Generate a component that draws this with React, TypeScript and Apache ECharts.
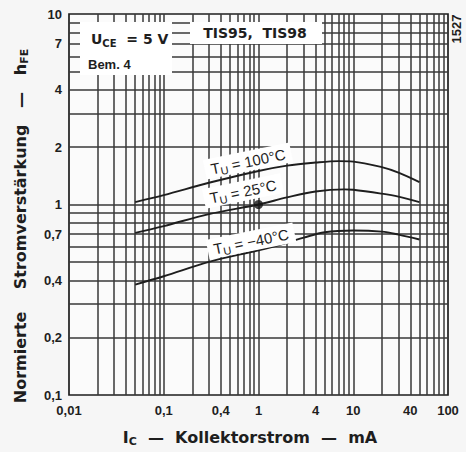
import React, { useEffect, useRef } from 'react';
import * as echarts from 'echarts';

// Tick labels
const xTickLabels = [0.01, 0.1, 0.4, 1, 4, 10, 40, 100];
const yTickLabels = [0.1, 0.2, 0.4, 0.7, 1, 2, 4, 7, 10];
// Log grid
const xDecades = [0.01, 0.1, 1, 10];
const yDecades = [0.1, 1];
const gridSteps = [2, 3, 4, 5, 6, 7, 8, 9];

// Series: I_C (mA) and normalised hFE
const ic100 = [0.05, 0.1, 0.3, 1, 2, 4, 7, 10, 20, 30, 50];
const hfe100 = [1.03, 1.12, 1.3, 1.5, 1.6, 1.66, 1.69, 1.68, 1.57, 1.47, 1.31];
const ic25 = [0.05, 0.1, 0.3, 1, 2, 4, 8, 10, 20, 30, 50];
const hfe25 = [0.71, 0.77, 0.89, 1.0, 1.09, 1.17, 1.2, 1.195, 1.14, 1.1, 1.03];
const icM40 = [0.05, 0.1, 0.3, 1, 2, 3, 5, 10, 20, 30, 50];
const hfeM40 = [0.38, 0.42, 0.5, 0.575, 0.63, 0.67, 0.715, 0.73, 0.72, 0.695, 0.655];
const refIc = [1];
const refHfe = [1];

const FONT = '"Liberation Sans", Arial, sans-serif';
const WIDE = '"DejaVu Sans", sans-serif';
const INK = '#1e1e1e';

const zip = (a: number[], b: number[]) => a.map((v, i) => [v, b[i]]);

export default function App() {
  const ref = useRef<HTMLDivElement>(null);
  useEffect(() => {
    if (!ref.current) return;
    const chart = echarts.init(ref.current, undefined, { renderer: 'svg' });

    const xGrid: number[] = [];
    xDecades.forEach((d) => gridSteps.forEach((k) => xGrid.push(d * k)));
    xDecades.slice(1).forEach((d) => xGrid.push(d));
    const yGrid: number[] = [];
    yDecades.forEach((d) => gridSteps.forEach((k) => yGrid.push(d * k)));
    yGrid.push(1);

    const gridLineStyle = { color: '#383838', width: 1.5, type: 'solid' as const };
    const sub = { fontSize: 10, lineHeight: 10, verticalAlign: 'bottom' as const, fontFamily: FONT, fill: INK };

    const curve = (name: string, data: number[][]) => ({
      name,
      type: 'line',
      data,
      smooth: 0.35,
      showSymbol: false,
      z: 10,
      lineStyle: { color: INK, width: 1.9 },
    });

    const curveLabel = (txt: string, x: number, y: number) => ({
      type: 'text',
      x,
      y,
      rotation: 0.2,
      z: 20,
      style: {
        text: `{a|T}{s|U}{a| = ${txt}}`,
        align: 'center',
        verticalAlign: 'middle',
        backgroundColor: '#ffffff',
        padding: [1, 6, 0, 6],
        rich: {
          a: { fontSize: 15, lineHeight: 19, fontFamily: FONT, fill: INK },
          s: { ...sub, fontSize: 11, lineHeight: 11 },
        },
      },
    });

    const tickLabel = {
      formatter: (v: number) => String(v).replace('.', ','),
      fontFamily: FONT,
      fontWeight: 'bold',
      fontSize: 13,
      color: INK,
    };

    chart.setOption({
      animation: false,
      backgroundColor: '#f6f6f6',
      grid: {
        left: 69,
        top: 14,
        width: 379,
        height: 381,
        show: true,
        backgroundColor: '#fbfbfb',
        borderColor: INK,
        borderWidth: 1.7,
      },
      xAxis: {
        type: 'log',
        logBase: 10,
        min: 0.01,
        max: 100,
        axisLine: { show: false },
        axisTick: { show: false },
        splitLine: { show: false },
        axisLabel: { ...tickLabel, customValues: xTickLabels, margin: 9 },
      },
      yAxis: {
        type: 'log',
        logBase: 10,
        min: 0.1,
        max: 10,
        axisLine: { show: false },
        axisTick: { show: false },
        splitLine: { show: false },
        axisLabel: { ...tickLabel, customValues: yTickLabels, margin: 7 },
      },
      series: [
        {
          type: 'line',
          data: [[0.01, 0.1]],
          showSymbol: false,
          symbol: 'none',
          z: 1,
          lineStyle: { width: 0 },
          markLine: {
            silent: true,
            symbol: ['none', 'none'],
            label: { show: false },
            lineStyle: gridLineStyle,
            animation: false,
            data: [
              ...xGrid.map((v) => ({ xAxis: v })),
              ...yGrid.map((v) => ({ yAxis: v })),
            ],
          },
        },
        curve('100', zip(ic100, hfe100)),
        curve('25', zip(ic25, hfe25)),
        curve('-40', zip(icM40, hfeM40)),
        {
          type: 'scatter',
          data: zip(refIc, refHfe),
          symbolSize: 9,
          z: 11,
          itemStyle: { color: '#111' },
        },
      ],
      graphic: [
        { type: 'rect', z: 15, shape: { x: 80, y: 22, width: 92, height: 53 }, style: { fill: '#ffffff' } },
        {
          type: 'text',
          x: 91,
          y: 39,
          z: 16,
          style: {
            text: '{a|U}{s|CE}{a|  = 5 V}',
            verticalAlign: 'middle',
            rich: {
              a: { fontSize: 14, lineHeight: 18, fontWeight: 'bold', fontFamily: WIDE, fill: INK },
              s: { ...sub, fontWeight: 'bold', fontFamily: WIDE },
            },
          },
        },
        {
          type: 'text',
          x: 88,
          y: 64,
          z: 16,
          style: { text: 'Bem. 4', font: `bold 13px ${FONT}`, fill: INK, verticalAlign: 'middle' },
        },
        { type: 'rect', z: 15, shape: { x: 190, y: 22, width: 132, height: 22 }, style: { fill: '#ffffff' } },
        {
          type: 'text',
          x: 255,
          y: 33,
          z: 16,
          style: { text: 'TIS95,  TIS98', font: `bold 14px ${WIDE}`, fill: INK, align: 'center', verticalAlign: 'middle' },
        },
        {
          type: 'text',
          x: 456,
          y: 29,
          z: 16,
          rotation: Math.PI / 2,
          style: { text: '1527', font: `bold 13px ${FONT}`, fill: INK, align: 'center', verticalAlign: 'middle' },
        },
        curveLabel('100°C', 248, 161),
        curveLabel('25°C', 243, 191),
        curveLabel('−40°C', 251, 241),
        {
          type: 'text',
          x: 250,
          y: 437,
          z: 16,
          style: {
            text: '{a|I}{s|C}{a|  —  Kollektorstrom  —  mA}',
            align: 'center',
            verticalAlign: 'middle',
            rich: {
              a: { fontSize: 16, lineHeight: 20, fontWeight: 'bold', fontFamily: WIDE, fill: INK },
              s: { ...sub, fontSize: 11, lineHeight: 11, fontWeight: 'bold', fontFamily: WIDE },
            },
          },
        },
        {
          type: 'text',
          x: 20,
          y: 226,
          z: 16,
          rotation: Math.PI / 2,
          style: {
            text: '{a|Normierte    Stromverstärkung   —   h}{s|FE}',
            align: 'center',
            verticalAlign: 'middle',
            rich: {
              a: { fontSize: 16, lineHeight: 20, fontWeight: 'bold', fontFamily: WIDE, fill: INK },
              s: { ...sub, fontSize: 11, lineHeight: 11, fontWeight: 'bold', fontFamily: WIDE },
            },
          },
        },
      ],
    });
    return () => chart.dispose();
  }, []);
  return (
    <div
      ref={ref}
      style={{ position: 'fixed', left: 0, top: 0, width: 466, height: 452 }}
    />
  );
}
